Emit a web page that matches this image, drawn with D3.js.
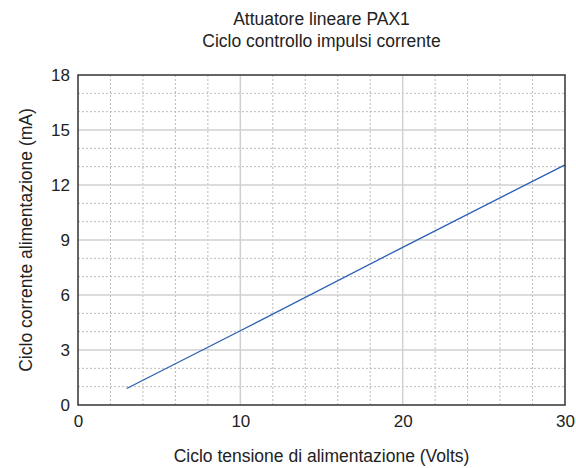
<!DOCTYPE html>
<html>
<head>
<meta charset="utf-8">
<script src="https://cdn.jsdelivr.net/npm/d3@7"></script>
<style>
  body { margin: 0; background: #fff; }
  text { font-family: "Liberation Sans", Arial, sans-serif; fill: #222; }
</style>
</head>
<body>
<div id="chart"></div>
<script>
// data
var voltage = [3, 10, 20, 30];
var current = [0.9, 4.05, 8.6, 13.1];
var xTicks = [0, 10, 20, 30];
var yTicks = [0, 3, 6, 9, 12, 15, 18];
var titleLines = ["Attuatore lineare PAX1", "Ciclo controllo impulsi corrente"];

var width = 576, height = 468;
var margin = {left: 78, right: 11, top: 75, bottom: 63};

var svg = d3.select("#chart").append("svg")
  .attr("width", width)
  .attr("height", height);

var x = d3.scaleLinear().domain([0, 30]).range([margin.left, width - margin.right]);
var y = d3.scaleLinear().domain([0, 18]).range([height - margin.bottom, margin.top]);

var grid = svg.append("g");

// minor grid, dotted
grid.selectAll(".minx")
  .data(d3.range(2, 30, 2).filter(function(d) { return d % 10 != 0; }))
  .enter().append("line")
  .attr("x1", function(d) { return x(d); })
  .attr("x2", function(d) { return x(d); })
  .attr("y1", y(0)).attr("y2", y(18))
  .attr("stroke", "#bbb").attr("stroke-width", 1)
  .attr("stroke-dasharray", "2,2");

grid.selectAll(".miny")
  .data(d3.range(1, 18, 1).filter(function(d) { return d % 3 != 0; }))
  .enter().append("line")
  .attr("y1", function(d) { return y(d); })
  .attr("y2", function(d) { return y(d); })
  .attr("x1", x(0)).attr("x2", x(30))
  .attr("stroke", "#bbb").attr("stroke-width", 1)
  .attr("stroke-dasharray", "2,2");

// major grid, solid
grid.selectAll(".majx")
  .data(xTicks.slice(1, -1))
  .enter().append("line")
  .attr("x1", function(d) { return x(d); })
  .attr("x2", function(d) { return x(d); })
  .attr("y1", y(0)).attr("y2", y(18))
  .attr("stroke", "#d0d0d0").attr("stroke-width", 1.5);

grid.selectAll(".majy")
  .data(yTicks.slice(1, -1))
  .enter().append("line")
  .attr("y1", function(d) { return y(d); })
  .attr("y2", function(d) { return y(d); })
  .attr("x1", x(0)).attr("x2", x(30))
  .attr("stroke", "#d0d0d0").attr("stroke-width", 1.5);

// series
var line = d3.line()
  .x(function(d, i) { return x(voltage[i]); })
  .y(function(d) { return y(d); });

svg.append("path")
  .datum(current)
  .attr("d", line)
  .attr("fill", "none")
  .attr("stroke", "#2a5fb5")
  .attr("stroke-width", 1.3);

// frame
svg.append("rect")
  .attr("x", x(0)).attr("y", y(18))
  .attr("width", x(30) - x(0)).attr("height", y(0) - y(18))
  .attr("fill", "none")
  .attr("stroke", "#333").attr("stroke-width", 1.5);

// axes
var xAxis = d3.axisBottom(x).tickValues(xTicks).tickSize(0).tickPadding(10);
var yAxis = d3.axisLeft(y).tickValues(yTicks).tickSize(0).tickPadding(8);

var gx = svg.append("g")
  .attr("transform", "translate(0," + y(0) + ")")
  .call(xAxis);
var gy = svg.append("g")
  .attr("transform", "translate(" + x(0) + ",0)")
  .call(yAxis);

[gx, gy].forEach(function(g) {
  g.select(".domain").remove();
  g.selectAll("text")
    .style("font-family", "'Liberation Sans', Arial, sans-serif")
    .style("font-size", "17px")
    .style("fill", "#222");
});

// titles
svg.selectAll(".title")
  .data(titleLines)
  .enter().append("text")
  .attr("x", (x(0) + x(30)) / 2)
  .attr("y", function(d, i) { return 25 + i * 22; })
  .attr("text-anchor", "middle")
  .style("font-size", "17.5px")
  .text(function(d) { return d; });

svg.append("text")
  .attr("x", (x(0) + x(30)) / 2)
  .attr("y", 462)
  .attr("text-anchor", "middle")
  .style("font-size", "17.5px")
  .text("Ciclo tensione di alimentazione (Volts)");

svg.append("text")
  .attr("transform", "translate(32," + ((y(0) + y(18)) / 2) + ") rotate(-90)")
  .attr("text-anchor", "middle")
  .style("font-size", "17.5px")
  .text("Ciclo corrente alimentazione (mA)");
</script>
</body>
</html>
